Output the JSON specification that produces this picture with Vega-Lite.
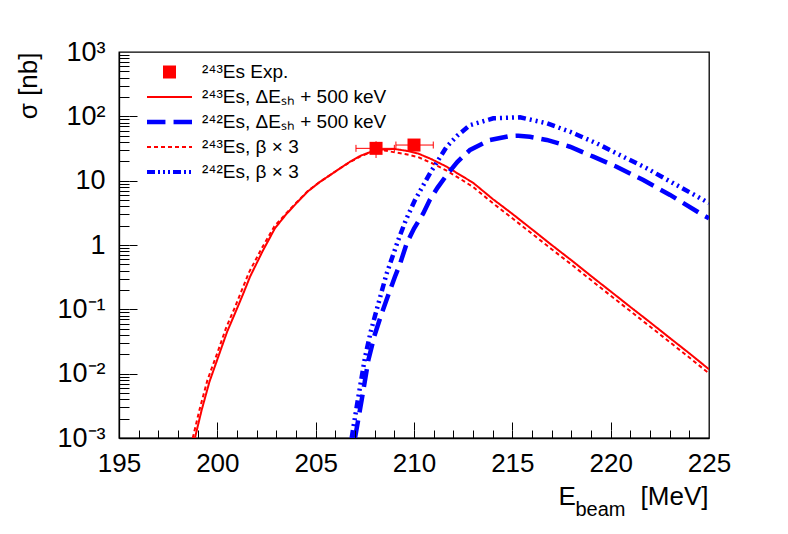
{
  "$schema": "https://vega.github.io/schema/vega-lite/v6.json",
  "width": 590,
  "height": 386,
  "autosize": "none",
  "padding": {"left": 119, "top": 52, "right": 79, "bottom": 96},
  "background": "white",
  "config": {
    "view": {"stroke": "black", "strokeWidth": 1.3},
    "font": "Liberation Sans",
    "axis": {
      "grid": false,
      "domainColor": "black",
      "domainWidth": 1.3,
      "tickColor": "black",
      "tickWidth": 1,
      "tickOpacity": 1,
      "labelColor": "black",
      "titleColor": "black",
      "labelFont": "Liberation Sans",
      "titleFont": "Liberation Sans",
      "titleFontWeight": "normal",
      "labelFlush": false,
      "labelOverlap": false,
      "labelBound": false
    }
  },
  "datasets": {
    "curves": [
      {"series": "243Es dEsh+500keV", "E": 198.86, "sigma": 0.001},
      {"series": "243Es dEsh+500keV", "E": 199.2, "sigma": 0.0027},
      {"series": "243Es dEsh+500keV", "E": 199.6, "sigma": 0.0075},
      {"series": "243Es dEsh+500keV", "E": 200.05, "sigma": 0.0184},
      {"series": "243Es dEsh+500keV", "E": 200.5, "sigma": 0.045},
      {"series": "243Es dEsh+500keV", "E": 200.9, "sigma": 0.087},
      {"series": "243Es dEsh+500keV", "E": 201.3, "sigma": 0.17},
      {"series": "243Es dEsh+500keV", "E": 201.66, "sigma": 0.32},
      {"series": "243Es dEsh+500keV", "E": 202.3, "sigma": 0.8},
      {"series": "243Es dEsh+500keV", "E": 202.93, "sigma": 1.82},
      {"series": "243Es dEsh+500keV", "E": 203.5, "sigma": 3.0},
      {"series": "243Es dEsh+500keV", "E": 204.0, "sigma": 4.4},
      {"series": "243Es dEsh+500keV", "E": 204.6, "sigma": 6.8},
      {"series": "243Es dEsh+500keV", "E": 205.2, "sigma": 9.5},
      {"series": "243Es dEsh+500keV", "E": 205.73, "sigma": 12.2},
      {"series": "243Es dEsh+500keV", "E": 206.3, "sigma": 16.0},
      {"series": "243Es dEsh+500keV", "E": 206.75, "sigma": 19.7},
      {"series": "243Es dEsh+500keV", "E": 207.3, "sigma": 24.5},
      {"series": "243Es dEsh+500keV", "E": 207.93, "sigma": 29},
      {"series": "243Es dEsh+500keV", "E": 208.5, "sigma": 30.8},
      {"series": "243Es dEsh+500keV", "E": 209.03, "sigma": 31},
      {"series": "243Es dEsh+500keV", "E": 209.6, "sigma": 29.2},
      {"series": "243Es dEsh+500keV", "E": 210.2, "sigma": 26.5},
      {"series": "243Es dEsh+500keV", "E": 210.9, "sigma": 21.5},
      {"series": "243Es dEsh+500keV", "E": 211.66, "sigma": 16.5},
      {"series": "243Es dEsh+500keV", "E": 212.3, "sigma": 12.5},
      {"series": "243Es dEsh+500keV", "E": 213.0, "sigma": 9.3},
      {"series": "243Es dEsh+500keV", "E": 214.0, "sigma": 5.2},
      {"series": "243Es dEsh+500keV", "E": 215.0, "sigma": 3.05},
      {"series": "243Es dEsh+500keV", "E": 216.0, "sigma": 1.75},
      {"series": "243Es dEsh+500keV", "E": 217.0, "sigma": 1.0},
      {"series": "243Es dEsh+500keV", "E": 218.0, "sigma": 0.58},
      {"series": "243Es dEsh+500keV", "E": 219.0, "sigma": 0.33},
      {"series": "243Es dEsh+500keV", "E": 220.0, "sigma": 0.19},
      {"series": "243Es dEsh+500keV", "E": 221.0, "sigma": 0.109},
      {"series": "243Es dEsh+500keV", "E": 222.0, "sigma": 0.063},
      {"series": "243Es dEsh+500keV", "E": 223.0, "sigma": 0.036},
      {"series": "243Es dEsh+500keV", "E": 224.0, "sigma": 0.0207},
      {"series": "243Es dEsh+500keV", "E": 225.0, "sigma": 0.0117},

      {"series": "243Es beta x3", "E": 198.75, "sigma": 0.001},
      {"series": "243Es beta x3", "E": 199.1, "sigma": 0.0028},
      {"series": "243Es beta x3", "E": 199.5, "sigma": 0.008},
      {"series": "243Es beta x3", "E": 200.0, "sigma": 0.021},
      {"series": "243Es beta x3", "E": 200.45, "sigma": 0.052},
      {"series": "243Es beta x3", "E": 200.85, "sigma": 0.1},
      {"series": "243Es beta x3", "E": 201.25, "sigma": 0.2},
      {"series": "243Es beta x3", "E": 201.6, "sigma": 0.37},
      {"series": "243Es beta x3", "E": 202.25, "sigma": 0.88},
      {"series": "243Es beta x3", "E": 202.9, "sigma": 1.95},
      {"series": "243Es beta x3", "E": 203.5, "sigma": 3.1},
      {"series": "243Es beta x3", "E": 204.0, "sigma": 4.5},
      {"series": "243Es beta x3", "E": 204.6, "sigma": 6.9},
      {"series": "243Es beta x3", "E": 205.2, "sigma": 9.5},
      {"series": "243Es beta x3", "E": 205.73, "sigma": 12.2},
      {"series": "243Es beta x3", "E": 206.3, "sigma": 16.0},
      {"series": "243Es beta x3", "E": 206.75, "sigma": 19.5},
      {"series": "243Es beta x3", "E": 207.3, "sigma": 24},
      {"series": "243Es beta x3", "E": 207.93, "sigma": 28.5},
      {"series": "243Es beta x3", "E": 208.5, "sigma": 29.5},
      {"series": "243Es beta x3", "E": 209.03, "sigma": 27.5},
      {"series": "243Es beta x3", "E": 209.6, "sigma": 25.8},
      {"series": "243Es beta x3", "E": 210.2, "sigma": 23.3},
      {"series": "243Es beta x3", "E": 210.9, "sigma": 18.8},
      {"series": "243Es beta x3", "E": 211.66, "sigma": 14.3},
      {"series": "243Es beta x3", "E": 212.3, "sigma": 10.9},
      {"series": "243Es beta x3", "E": 213.0, "sigma": 8.0},
      {"series": "243Es beta x3", "E": 214.0, "sigma": 4.5},
      {"series": "243Es beta x3", "E": 215.0, "sigma": 2.6},
      {"series": "243Es beta x3", "E": 216.0, "sigma": 1.5},
      {"series": "243Es beta x3", "E": 217.0, "sigma": 0.86},
      {"series": "243Es beta x3", "E": 218.0, "sigma": 0.5},
      {"series": "243Es beta x3", "E": 219.0, "sigma": 0.285},
      {"series": "243Es beta x3", "E": 220.0, "sigma": 0.163},
      {"series": "243Es beta x3", "E": 221.0, "sigma": 0.094},
      {"series": "243Es beta x3", "E": 222.0, "sigma": 0.054},
      {"series": "243Es beta x3", "E": 223.0, "sigma": 0.031},
      {"series": "243Es beta x3", "E": 224.0, "sigma": 0.0178},
      {"series": "243Es beta x3", "E": 225.0, "sigma": 0.0101},

      {"series": "242Es dEsh+500keV", "E": 207.0, "sigma": 0.001},
      {"series": "242Es dEsh+500keV", "E": 207.34, "sigma": 0.0039},
      {"series": "242Es dEsh+500keV", "E": 207.68, "sigma": 0.0163},
      {"series": "242Es dEsh+500keV", "E": 208.0, "sigma": 0.04},
      {"series": "242Es dEsh+500keV", "E": 208.36, "sigma": 0.087},
      {"series": "242Es dEsh+500keV", "E": 208.7, "sigma": 0.17},
      {"series": "242Es dEsh+500keV", "E": 209.03, "sigma": 0.32},
      {"series": "242Es dEsh+500keV", "E": 209.3, "sigma": 0.52},
      {"series": "242Es dEsh+500keV", "E": 209.63, "sigma": 1.06},
      {"series": "242Es dEsh+500keV", "E": 210.0, "sigma": 1.8},
      {"series": "242Es dEsh+500keV", "E": 210.47, "sigma": 3.1},
      {"series": "242Es dEsh+500keV", "E": 210.8, "sigma": 5.0},
      {"series": "242Es dEsh+500keV", "E": 211.2, "sigma": 7.8},
      {"series": "242Es dEsh+500keV", "E": 211.66, "sigma": 12.2},
      {"series": "242Es dEsh+500keV", "E": 212.2, "sigma": 19.5},
      {"series": "242Es dEsh+500keV", "E": 212.85, "sigma": 30},
      {"series": "242Es dEsh+500keV", "E": 213.86, "sigma": 42.8},
      {"series": "242Es dEsh+500keV", "E": 214.88, "sigma": 49.5},
      {"series": "242Es dEsh+500keV", "E": 215.3, "sigma": 50},
      {"series": "242Es dEsh+500keV", "E": 215.9, "sigma": 48},
      {"series": "242Es dEsh+500keV", "E": 216.75, "sigma": 43},
      {"series": "242Es dEsh+500keV", "E": 217.93, "sigma": 33.7},
      {"series": "242Es dEsh+500keV", "E": 219.12, "sigma": 23.6},
      {"series": "242Es dEsh+500keV", "E": 220.3, "sigma": 16.5},
      {"series": "242Es dEsh+500keV", "E": 221.66, "sigma": 10.2},
      {"series": "242Es dEsh+500keV", "E": 223.02, "sigma": 6.0},
      {"series": "242Es dEsh+500keV", "E": 224.71, "sigma": 2.9},
      {"series": "242Es dEsh+500keV", "E": 225.0, "sigma": 2.6},

      {"series": "242Es beta x3", "E": 206.83, "sigma": 0.001},
      {"series": "242Es beta x3", "E": 207.09, "sigma": 0.0031},
      {"series": "242Es beta x3", "E": 207.51, "sigma": 0.018},
      {"series": "242Es beta x3", "E": 207.8, "sigma": 0.045},
      {"series": "242Es beta x3", "E": 208.1, "sigma": 0.098},
      {"series": "242Es beta x3", "E": 208.61, "sigma": 0.36},
      {"series": "242Es beta x3", "E": 209.2, "sigma": 1.2},
      {"series": "242Es beta x3", "E": 209.6, "sigma": 2.5},
      {"series": "242Es beta x3", "E": 210.05, "sigma": 5.0},
      {"series": "242Es beta x3", "E": 210.81, "sigma": 13},
      {"series": "242Es beta x3", "E": 211.66, "sigma": 33.7},
      {"series": "242Es beta x3", "E": 212.2, "sigma": 50},
      {"series": "242Es beta x3", "E": 212.85, "sigma": 73},
      {"series": "242Es beta x3", "E": 214.03, "sigma": 93},
      {"series": "242Es beta x3", "E": 215.39, "sigma": 96.6},
      {"series": "242Es beta x3", "E": 216.75, "sigma": 78},
      {"series": "242Es beta x3", "E": 217.93, "sigma": 57.7},
      {"series": "242Es beta x3", "E": 219.29, "sigma": 38},
      {"series": "242Es beta x3", "E": 220.47, "sigma": 25},
      {"series": "242Es beta x3", "E": 221.83, "sigma": 15.6},
      {"series": "242Es beta x3", "E": 223.19, "sigma": 9.1},
      {"series": "242Es beta x3", "E": 224.88, "sigma": 4.7},
      {"series": "242Es beta x3", "E": 225.0, "sigma": 4.5}
    ],
    "exp": [
      {"series": "243Es Exp.", "E": 208.07, "sigma": 31.8, "Elo": 207.05, "Ehi": 209.0, "slo": 22.5, "shi": 41},
      {"series": "243Es Exp.", "E": 210.0, "sigma": 35.8, "Elo": 209.08, "Ehi": 210.98, "slo": 30, "shi": 42}
    ]
  },
  "layer": [
    {
      "data": {"name": "curves"},
      "transform": [{"filter": "indexof(datum.series, '243Es') == 0"}],
      "mark": {"type": "line", "clip": true, "strokeWidth": 2},
      "encoding": {
        "x": {
          "field": "E",
          "type": "quantitative",
          "scale": {"domain": [195, 225], "nice": false, "zero": false},
          "axis": {
            "orient": "bottom",
            "tickCount": 6,
            "format": "d",
            "ticks": false,
            "tickSize": 0,
            "labelFontSize": 26,
            "labelPadding": 12,
            "title": "E",
            "titleFontSize": 26,
            "titleX": 439,
            "titleY": 66,
            "titleAlign": "left",
            "titleBaseline": "alphabetic",
            "titleAnchor": null
          }
        },
        "y": {
          "field": "sigma",
          "type": "quantitative",
          "scale": {"type": "log", "domain": [0.001, 1000], "nice": false},
          "axis": {
            "orient": "left",
            "tickCount": 6,
            "labelExpr": "round(log(datum.value) / LN10) == 3 ? '10³' : round(log(datum.value) / LN10) == 2 ? '10²' : round(log(datum.value) / LN10) == 1 ? '10' : round(log(datum.value) / LN10) == 0 ? '1' : round(log(datum.value) / LN10) == -1 ? '10⁻¹' : round(log(datum.value) / LN10) == -2 ? '10⁻²' : '10⁻³'",
            "ticks": false,
            "tickSize": 0,
            "labelFontSize": 27,
            "labelPadding": 14,
            "title": "σ [nb]",
            "titleFontSize": 26,
            "titleAngle": -90,
            "titleX": -83,
            "titleY": 0,
            "titleAlign": "right",
            "titleBaseline": "alphabetic",
            "titleAnchor": null
          }
        },
        "color": {
          "field": "series",
          "type": "nominal",
          "scale": {
            "domain": ["243Es Exp.", "243Es dEsh+500keV", "242Es dEsh+500keV", "243Es beta x3", "242Es beta x3"],
            "range": ["#ff0000", "#ff0000", "#0000ff", "#ff0000", "#0000ff"]
          },
          "legend": {
            "orient": "none",
            "legendX": 28,
            "legendY": 7.5,
            "title": null,
            "padding": 0,
            "symbolType": "stroke",
            "symbolSize": 2025,
            "symbolStrokeWidth": 0,
            "clipHeight": 25,
            "rowPadding": 0,
            "labelFont": "Liberation Sans",
            "labelFontSize": 19,
            "labelColor": "black",
            "labelLimit": 0,
            "labelOffset": 10,
            "labelExpr": "datum.value == '243Es Exp.' ? '²⁴³Es Exp.' : datum.value == '243Es dEsh+500keV' ? '²⁴³Es, ΔEₛₕ + 500 keV' : datum.value == '242Es dEsh+500keV' ? '²⁴²Es, ΔEₛₕ + 500 keV' : datum.value == '243Es beta x3' ? '²⁴³Es, β × 3' : '²⁴²Es, β × 3'",
            "encode": {
              "symbols": {
                "update": {
                  "shape": {"signal": "['M-0.289,-0.289H0.289V0.289H-0.289Z', 'M-1,-0.045H1V0.045H-1Z', 'M-1,-0.1H-0.18V0.1H-1Z M0.18,-0.1H1V0.1H0.18Z', 'M-1,-0.045H-0.822V0.045H-1Z M-0.689,-0.045H-0.511V0.045H-0.689Z M-0.378,-0.045H-0.2V0.045H-0.378Z M-0.067,-0.045H0.111V0.045H-0.067Z M0.244,-0.045H0.422V0.045H0.244Z M0.556,-0.045H0.733V0.045H0.556Z M0.867,-0.045H1V0.045H0.867Z', 'M-1,-0.089H-0.644V0.089H-1Z M-0.511,-0.089H-0.422V0.089H-0.511Z M-0.289,-0.089H-0.2V0.089H-0.289Z M-0.067,-0.089H0.022V0.089H-0.067Z M0.156,-0.089H0.511V0.089H0.156Z M0.644,-0.089H0.733V0.089H0.644Z M0.867,-0.089H0.956V0.089H0.867Z'][datum.index]"},
                  "fill": {"signal": "['#ff0000', '#ff0000', '#0000ff', '#ff0000', '#0000ff'][datum.index]"},
                  "stroke": {"value": "transparent"},
                  "opacity": {"value": 1}
                }
              }
            }
          }
        },
        "strokeDash": {
          "field": "series",
          "type": "nominal",
          "scale": {
            "domain": ["243Es Exp.", "243Es dEsh+500keV", "242Es dEsh+500keV", "243Es beta x3", "242Es beta x3"],
            "range": [[1, 0], [1, 0], [18, 8], [4, 3], [8, 4, 2, 4, 2, 4, 2, 4]]
          },
          "legend": null
        }
      }
    },
    {
      "data": {"name": "curves"},
      "transform": [{"filter": "indexof(datum.series, '242Es') == 0"}],
      "mark": {"type": "line", "clip": true, "strokeWidth": 4.5},
      "encoding": {
        "x": {"field": "E", "type": "quantitative", "scale": {"domain": [195, 225], "nice": false, "zero": false}, "axis": null},
        "y": {"field": "sigma", "type": "quantitative", "scale": {"type": "log", "domain": [0.001, 1000], "nice": false}, "axis": null},
        "color": {"field": "series", "type": "nominal"},
        "strokeDash": {"field": "series", "type": "nominal", "legend": null}
      }
    },
    {
      "data": {"name": "exp"},
      "mark": {"type": "rule", "color": "#ff0000", "strokeWidth": 1},
      "encoding": {
        "x": {
          "field": "Elo",
          "type": "quantitative",
          "scale": {"domain": [195, 225], "nice": false, "zero": false},
          "axis": {
            "orient": "bottom",
            "values": [200, 205, 210, 215, 220],
            "ticks": true,
            "tickSize": 8,
            "offset": -16,
            "labels": false,
            "domain": false,
            "title": null,
            "zindex": 1
          }
        },
        "x2": {"field": "Ehi"},
        "y": {
          "field": "sigma",
          "type": "quantitative",
          "scale": {"type": "log", "domain": [0.001, 1000], "nice": false},
          "axis": {
            "orient": "left",
            "values": [0.01, 0.1, 1, 10, 100],
            "ticks": true,
            "tickSize": 8,
            "offset": -18,
            "labels": false,
            "domain": false,
            "title": null,
            "zindex": 1
          }
        }
      }
    },
    {
      "data": {"name": "exp"},
      "mark": {"type": "rule", "color": "#ff0000", "strokeWidth": 1},
      "encoding": {
        "x": {
          "field": "E",
          "type": "quantitative",
          "scale": {"domain": [195, 225], "nice": false, "zero": false},
          "axis": {
            "orient": "bottom",
            "ticks": false,
            "labels": false,
            "domain": false,
            "title": "beam",
            "titleFontSize": 20,
            "titleX": 456,
            "titleY": 77,
            "titleAlign": "left",
            "titleBaseline": "alphabetic",
            "titleAnchor": null
          }
        },
        "y": {"field": "slo", "type": "quantitative", "scale": {"type": "log", "domain": [0.001, 1000], "nice": false}, "axis": null},
        "y2": {"field": "shi"}
      }
    },
    {
      "data": {"name": "exp"},
      "transform": [{"fold": ["Elo", "Ehi"], "as": ["end", "Ecap"]}],
      "mark": {"type": "point", "shape": "M0,-1L0,1", "size": 49, "filled": false, "color": "#ff0000", "strokeWidth": 1, "opacity": 1},
      "encoding": {
        "x": {
          "field": "Ecap",
          "type": "quantitative",
          "scale": {"domain": [195, 225], "nice": false, "zero": false},
          "axis": {
            "orient": "bottom",
            "values": [196, 197, 198, 199, 200, 201, 202, 203, 204, 205, 206, 207, 208, 209, 210, 211, 212, 213, 214, 215, 216, 217, 218, 219, 220, 221, 222, 223, 224],
            "ticks": true,
            "tickSize": 8,
            "offset": -8,
            "labels": false,
            "domain": false,
            "title": null,
            "zindex": 1
          }
        },
        "y": {
          "field": "sigma",
          "type": "quantitative",
          "scale": {"type": "log", "domain": [0.001, 1000], "nice": false},
          "axis": {
            "orient": "left",
            "values": [0.002, 0.003, 0.004, 0.005, 0.006, 0.007, 0.008, 0.009, 0.01, 0.02, 0.03, 0.04, 0.05, 0.06, 0.07, 0.08, 0.09, 0.1, 0.2, 0.3, 0.4, 0.5, 0.6, 0.7, 0.8, 0.9, 1, 2, 3, 4, 5, 6, 7, 8, 9, 10, 20, 30, 40, 50, 60, 70, 80, 90, 100, 200, 300, 400, 500, 600, 700, 800, 900],
            "ticks": true,
            "tickSize": 10,
            "offset": -10,
            "labels": false,
            "domain": false,
            "title": null,
            "zindex": 1
          }
        }
      }
    },
    {
      "data": {"name": "exp"},
      "mark": {"type": "point", "shape": "square", "size": 169, "filled": true, "opacity": 1},
      "encoding": {
        "x": {
          "field": "E",
          "type": "quantitative",
          "scale": {"domain": [195, 225], "nice": false, "zero": false},
          "axis": {
            "orient": "bottom",
            "ticks": false,
            "labels": false,
            "domain": false,
            "title": "[MeV]",
            "titleFontSize": 26,
            "titleX": 589,
            "titleY": 66,
            "titleAlign": "right",
            "titleBaseline": "alphabetic",
            "titleAnchor": null
          }
        },
        "y": {"field": "sigma", "type": "quantitative", "scale": {"type": "log", "domain": [0.001, 1000], "nice": false}, "axis": null},
        "color": {"field": "series", "type": "nominal"}
      }
    }
  ],
  "resolve": {"axis": {"x": "independent", "y": "independent"}}
}
